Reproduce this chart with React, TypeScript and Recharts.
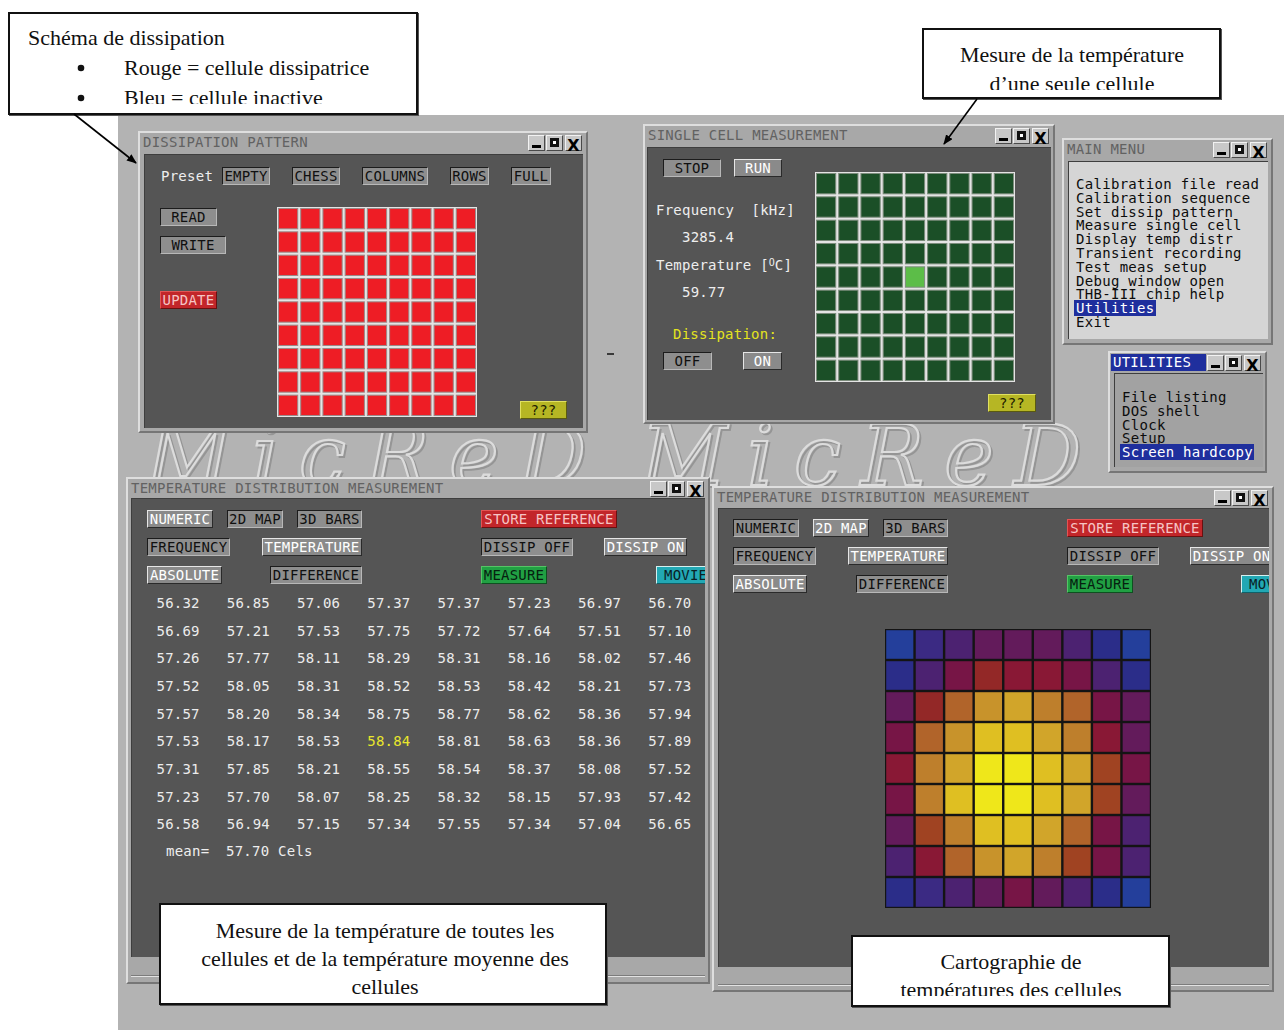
import { Scatter, ScatterChart, XAxis, YAxis } from 'recharts'

const MONO = '"DejaVu Sans Mono", monospace'
const SERIF = '"Liberation Serif", serif'

const DESK = '#b3b3b3'
const FRAME = '#a8a8a8'
const PANEL = '#555555'

// Dissipation pattern ("FULL" preset): 1 = dissipating cell
const DISSIP_PATTERN = [
  [1, 1, 1, 1, 1, 1, 1, 1, 1],
  [1, 1, 1, 1, 1, 1, 1, 1, 1],
  [1, 1, 1, 1, 1, 1, 1, 1, 1],
  [1, 1, 1, 1, 1, 1, 1, 1, 1],
  [1, 1, 1, 1, 1, 1, 1, 1, 1],
  [1, 1, 1, 1, 1, 1, 1, 1, 1],
  [1, 1, 1, 1, 1, 1, 1, 1, 1],
  [1, 1, 1, 1, 1, 1, 1, 1, 1],
  [1, 1, 1, 1, 1, 1, 1, 1, 1],
]

// Single cell measurement: 1 = cell being measured
const MEASURED_CELL = [
  [0, 0, 0, 0, 0, 0, 0, 0, 0],
  [0, 0, 0, 0, 0, 0, 0, 0, 0],
  [0, 0, 0, 0, 0, 0, 0, 0, 0],
  [0, 0, 0, 0, 0, 0, 0, 0, 0],
  [0, 0, 0, 0, 1, 0, 0, 0, 0],
  [0, 0, 0, 0, 0, 0, 0, 0, 0],
  [0, 0, 0, 0, 0, 0, 0, 0, 0],
  [0, 0, 0, 0, 0, 0, 0, 0, 0],
  [0, 0, 0, 0, 0, 0, 0, 0, 0],
]
const FREQ_KHZ = '3285.4'
const CELL_TEMP = '59.77'

// Numeric temperature distribution [°C]
const TEMP_TABLE = [
  [56.32, 56.85, 57.06, 57.37, 57.37, 57.23, 56.97, 56.7],
  [56.69, 57.21, 57.53, 57.75, 57.72, 57.64, 57.51, 57.1],
  [57.26, 57.77, 58.11, 58.29, 58.31, 58.16, 58.02, 57.46],
  [57.52, 58.05, 58.31, 58.52, 58.53, 58.42, 58.21, 57.73],
  [57.57, 58.2, 58.34, 58.75, 58.77, 58.62, 58.36, 57.94],
  [57.53, 58.17, 58.53, 58.84, 58.81, 58.63, 58.36, 57.89],
  [57.31, 57.85, 58.21, 58.55, 58.54, 58.37, 58.08, 57.52],
  [57.23, 57.7, 58.07, 58.25, 58.32, 58.15, 57.93, 57.42],
  [56.58, 56.94, 57.15, 57.34, 57.55, 57.34, 57.04, 56.65],
]
const MEAN_TEMP = '57.70'

// 2D map colour scale (cold -> hot) and the level of each cell
const MAP_PALETTE = [
  '#243f9b', '#2b2d89', '#3b2a83', '#4c2271', '#631b5b',
  '#771546', '#891835', '#932827', '#a04322', '#b1642a',
  '#be7f2c', '#c8932b', '#d1a52a', '#dfbf22', '#efe71a',
]
const MAP_LEVELS = [
  [0, 2, 3, 4, 4, 4, 3, 1, 0],
  [1, 3, 5, 7, 6, 6, 5, 3, 1],
  [4, 7, 9, 11, 12, 10, 9, 5, 4],
  [5, 9, 11, 13, 13, 12, 10, 6, 4],
  [6, 10, 12, 14, 14, 13, 12, 8, 5],
  [5, 10, 13, 14, 14, 13, 12, 8, 4],
  [4, 8, 10, 13, 13, 12, 9, 5, 3],
  [3, 6, 9, 11, 12, 10, 8, 5, 3],
  [1, 2, 3, 4, 5, 4, 3, 1, 0],
]

const MAIN_MENU = [
  'Calibration file read',
  'Calibration sequence',
  'Set dissip pattern',
  'Measure single cell',
  'Display temp distr',
  'Transient recording',
  'Test meas setup',
  'Debug window open',
  'THB-III chip help',
  'Utilities',
  'Exit',
]
const UTILITY_ITEMS = ['File listing', 'DOS shell', 'Clock', 'Setup', 'Screen hardcopy']

type GridCell = { x: number; y: number; fill: string }

function toCells(matrix: number[][], color: (v: number) => string): GridCell[] {
  return matrix.flatMap((row, r) =>
    row.map((v, c) => ({ x: c + 0.5, y: r + 0.5, fill: color(v) })),
  )
}

const NO_MARGIN = { top: 0, right: 0, bottom: 0, left: 0 }

function CellGrid({
  left, top, width, height, matrix, color, frame, gap, edge,
}: {
  left: number; top: number; width: number; height: number
  matrix: number[][]; color: (v: number) => string
  frame: string; gap: number; edge?: string
}) {
  const cols = matrix[0].length
  const rows = matrix.length
  const cw = width / cols
  const ch = height / rows
  return (
    <div style={{ position: 'absolute', left, top, width, height, background: frame }}>
      <ScatterChart width={width} height={height} margin={NO_MARGIN}>
        <XAxis type="number" dataKey="x" domain={[0, cols]} hide />
        <YAxis type="number" dataKey="y" domain={[0, rows]} reversed hide />
        <Scatter
          data={toCells(matrix, color)}
          isAnimationActive={false}
          shape={(p: any) => (
            <rect
              x={p.cx - cw / 2 + gap / 2}
              y={p.cy - ch / 2 + gap / 2}
              width={cw - gap}
              height={ch - gap}
              fill={p.payload.fill}
              stroke={edge ?? 'none'}
              strokeWidth={1}
            />
          )}
        />
      </ScatterChart>
    </div>
  )
}

function NumericTable() {
  const cols = TEMP_TABLE[0].length
  const rows = TEMP_TABLE.length
  const hottest = Math.max(...TEMP_TABLE.flat())
  const data = TEMP_TABLE.flatMap((row, r) => row.map((v, c) => ({ x: c + 0.5, y: r + 0.5, v })))
  return (
    <div style={{ position: 'absolute', left: 142, top: 589 }}>
      <ScatterChart width={562} height={249} margin={NO_MARGIN}>
        <XAxis type="number" dataKey="x" domain={[0, cols]} hide />
        <YAxis type="number" dataKey="y" domain={[0, rows]} reversed hide />
        <Scatter
          data={data}
          isAnimationActive={false}
          shape={(p: any) => (
            <text
              x={p.cx + 1}
              y={p.cy}
              textAnchor="middle"
              dominantBaseline="central"
              fontFamily={MONO}
              fontSize={14}
              letterSpacing={0.2}
              fill={p.payload.v === hottest ? '#e8e62c' : '#ececec'}
            >
              {p.payload.v.toFixed(2)}
            </text>
          )}
        />
      </ScatterChart>
    </div>
  )
}

const BTN: Record<string, { bg: string; fg: string; hi: string; lo: string }> = {
  plain: { bg: '#8e8e8e', fg: '#101010', hi: '#1c1c1c', lo: '#b8b8b8' },
  on: { bg: '#8a8a8a', fg: '#ffffff', hi: '#e6e6e6', lo: '#2a2a2a' },
  red: { bg: '#c2262a', fg: '#f6c4c4', hi: '#e25454', lo: '#6a1010' },
  green: { bg: '#21a043', fg: '#062010', hi: '#55c465', lo: '#0e5020' },
  teal: { bg: '#22a8b4', fg: '#0a2024', hi: '#d4f0f0', lo: '#106068' },
  yellow: { bg: '#b6b624', fg: '#202000', hi: '#e0e060', lo: '#5a5a10' },
}

function Btn({ x, y, w, h = 18, label, kind = 'plain', pad }: {
  x: number; y: number; w: number; h?: number; label: string; kind?: string; pad?: number
}) {
  const s = BTN[kind]
  return (
    <div
      style={{
        position: 'absolute', left: x, top: y, width: w, height: h, boxSizing: 'border-box',
        background: s.bg, color: s.fg,
        borderTop: `1px solid ${s.hi}`, borderLeft: `1px solid ${s.hi}`,
        borderRight: `1px solid ${s.lo}`, borderBottom: `1px solid ${s.lo}`,
        font: `14px ${MONO}`, letterSpacing: 0.2, lineHeight: `${h - 2}px`,
        textAlign: pad === undefined ? 'center' : 'left', paddingLeft: pad ?? 0,
        whiteSpace: 'pre', overflow: 'hidden',
      }}
    >
      {label}
    </div>
  )
}

function Txt({ x, y, children, color = '#eeeeee' }: { x: number; y: number; children: any; color?: string }) {
  return (
    <div
      style={{
        position: 'absolute', left: x, top: y - 9, height: 18, lineHeight: '18px',
        font: `14px ${MONO}`, letterSpacing: 0.25, color, whiteSpace: 'pre',
      }}
    >
      {children}
    </div>
  )
}

function Controls({ right, top }: { right: number; top: number }) {
  const box = (left: number, glyph: any) => (
    <div
      style={{
        position: 'absolute', left, top, width: 17, height: 16, boxSizing: 'border-box',
        background: '#c8c8c8', borderTop: '1px solid #f2f2f2', borderLeft: '1px solid #f2f2f2',
        borderRight: '1px solid #4a4a4a', borderBottom: '1px solid #4a4a4a',
      }}
    >
      {glyph}
    </div>
  )
  return (
    <>
      {box(right - 55, <div style={{ position: 'absolute', left: 3, top: 9, width: 9, height: 3, background: '#000' }} />)}
      {box(
        right - 37,
        <div style={{ position: 'absolute', left: 3, top: 2, width: 9, height: 9, background: '#111' }}>
          <div style={{ position: 'absolute', left: 3, top: 3, width: 3, height: 3, background: '#fff' }} />
        </div>,
      )}
      {box(
        right - 18,
        <div style={{ position: 'absolute', left: 0, top: 0, width: 15, lineHeight: '14px', textAlign: 'center', font: `bold 16px "DejaVu Sans", sans-serif` }}>
          X
        </div>,
      )}
    </>
  )
}

function Win({
  x, y, w, h, title, panel, panelBg = PANEL, highlight, divider, children,
}: {
  x: number; y: number; w: number; h: number; title: string
  panel: [number, number, number, number]; panelBg?: string
  highlight?: number; divider?: number; children?: any
}) {
  const [px, py, pw, ph] = panel
  return (
    <>
      <div
        style={{
          position: 'absolute', left: x, top: y, width: w, height: h, boxSizing: 'border-box',
          background: FRAME, borderTop: '2px solid #dedede', borderLeft: '2px solid #dedede',
          borderRight: '2px solid #767676', borderBottom: '2px solid #767676',
        }}
      />
      {highlight ? (
        <div style={{ position: 'absolute', left: x + 3, top: y + 3, width: highlight, height: 17, background: '#1f2f9d' }} />
      ) : null}
      <div
        style={{
          position: 'absolute', left: x + 5, top: y + 3, height: 18, lineHeight: '18px',
          font: `14px ${MONO}`, letterSpacing: 0.25, whiteSpace: 'pre',
          color: highlight ? '#ffffff' : '#626262',
        }}
      >
        {title}
      </div>
      <Controls right={x + w - 5} top={y + 4} />
      <div
        style={{
          position: 'absolute', left: px, top: py, width: pw, height: ph, background: panelBg,
          overflow: 'hidden', boxShadow: 'inset 1px 1px 0 #3e3e3e',
        }}
      >
        <div style={{ position: 'absolute', left: -px, top: -py }}>{children}</div>
      </div>
      {divider ? (
        <>
          <div style={{ position: 'absolute', left: px, top: divider, width: pw, height: 1, background: '#7c7c7c' }} />
          <div style={{ position: 'absolute', left: px, top: divider + 1, width: pw, height: 1, background: '#e2e2e2' }} />
        </>
      ) : null}
    </>
  )
}

function Menu({ x, y, items, pick }: { x: number; y: number; items: string[]; pick: string }) {
  return (
    <>
      {items.map((t, i) => (
        <div
          key={t}
          style={{
            position: 'absolute', left: x - 2, top: y + i * 13.8 - 7, height: 14, lineHeight: '14px',
            font: `14px ${MONO}`, letterSpacing: 0.3, whiteSpace: 'pre',
          }}
        >
          <span
            style={{
              display: 'inline-block', padding: '0 1px 0 2px',
              background: t === pick ? '#1f2f9d' : 'transparent',
              color: t === pick ? '#ffffff' : '#0c0c0c',
            }}
          >
            {t}
          </span>
        </div>
      ))}
    </>
  )
}

function TempWindowButtons({ dx, dy, map }: { dx: number; dy: number; map: boolean }) {
  const r1 = dy
  const r2 = dy + 28
  const r3 = dy + 56
  return (
    <>
      <Btn x={dx} y={r1} w={66} label="NUMERIC" kind={map ? 'plain' : 'on'} />
      <Btn x={dx + 80} y={r1} w={56} label="2D MAP" kind={map ? 'on' : 'plain'} />
      <Btn x={dx + 150} y={r1} w={65} label="3D BARS" />
      <Btn x={dx + 334} y={r1} w={136} label="STORE REFERENCE" kind="red" />
      <Btn x={dx} y={r2} w={83} label="FREQUENCY" />
      <Btn x={dx + 115} y={r2} w={100} label="TEMPERATURE" kind="on" />
      <Btn x={dx + 334} y={r2} w={92} label="DISSIP OFF" />
      <Btn x={dx + 457} y={r2} w={83} label="DISSIP ON" kind="on" />
      <Btn x={dx} y={r3} w={map ? 74 : 75} label="ABSOLUTE" kind="on" />
      <Btn x={dx + 123} y={r3} w={92} label="DIFFERENCE" />
      <Btn x={dx + 334} y={r3} w={66} label="MEASURE" kind="green" />
      <Btn x={dx + (map ? 508 : 509)} y={r3} w={54} label="MOVIE" kind="teal" pad={7} />
    </>
  )
}

function Note({
  x, y, w, h, clip, children,
}: { x: number; y: number; w: number; h: number; clip?: number; children: any }) {
  return (
    <div
      style={{
        position: 'absolute', left: x, top: y, width: w, height: h, boxSizing: 'border-box',
        background: '#ffffff', border: '2px solid #111', boxShadow: '1px 1px 0 #555',
      }}
    >
      <svg
        width={w}
        height={clip ?? h}
        style={{ position: 'absolute', left: -2, top: -2, overflow: 'hidden' }}
        fontFamily={SERIF}
        fontSize={22}
        fill="#111"
      >
        {children}
      </svg>
    </div>
  )
}

function Watermark({ x, y }: { x: number; y: number }) {
  const common = {
    fontFamily: '"DejaVu Serif", serif',
    fontStyle: 'italic' as const,
    fontSize: 84,
    textLength: 440,
    fill: 'none',
  }
  return (
    <>
      <text x={x + 2} y={y + 2} {...common} stroke="#959595" strokeWidth={2}>MicReD</text>
      <text x={x} y={y} {...common} stroke="#dcdcdc" strokeWidth={2.2}>MicReD</text>
    </>
  )
}

function Arrows() {
  return (
    <svg width={1284} height={1030} style={{ position: 'absolute', left: 0, top: 0 }}>
      <defs>
        <marker id="head" markerWidth="10" markerHeight="8" refX="9" refY="4" orient="auto" markerUnits="userSpaceOnUse">
          <path d="M0,0 L10,4 L0,8 z" fill="#000" />
        </marker>
      </defs>
      <line x1={74} y1={114} x2={136} y2={163} stroke="#000" strokeWidth={1.6} markerEnd="url(#head)" />
      <line x1={977} y1={99} x2={944} y2={144} stroke="#000" strokeWidth={1.6} markerEnd="url(#head)" />
    </svg>
  )
}

export default function App() {
  return (
    <div
      style={{
        position: 'absolute', left: 0, top: 0, width: 1284, height: 1030,
        background: '#ffffff', overflow: 'hidden',
      }}
    >
      {/* desktop */}
      <div style={{ position: 'absolute', left: 118, top: 115, width: 1166, height: 915, background: DESK }}>
        <svg width={1166} height={915}>
          <Watermark x={28} y={370} />
          <Watermark x={523} y={370} />
        </svg>
      </div>

      <Win x={138} y={131} w={450} h={302} title="DISSIPATION PATTERN" panel={[144, 154, 439, 274]}>
        <Txt x={161} y={177}>Preset</Txt>
        <Btn x={222} y={167} w={48} label="EMPTY" />
        <Btn x={292} y={167} w={48} label="CHESS" />
        <Btn x={362} y={167} w={66} label="COLUMNS" />
        <Btn x={450} y={167} w={39} label="ROWS" />
        <Btn x={511} y={167} w={40} label="FULL" />
        <Btn x={160} y={208} w={57} label="READ" />
        <Btn x={160} y={236} w={66} label="WRITE" />
        <Btn x={160} y={291} w={57} label="UPDATE" kind="red" />
        <CellGrid
          left={277} top={207} width={200} height={210}
          matrix={DISSIP_PATTERN}
          color={(v) => (v ? '#ee1d25' : '#2a3fa0')}
          frame="#e4e4e4" gap={3} edge="#9a8a8a"
        />
        <Btn x={520} y={401} w={47} label="???" kind="yellow" />
      </Win>

      <div style={{ position: 'absolute', left: 607, top: 353, width: 7, height: 2, background: '#3a3a3a' }} />

      <Win x={643} y={124} w={412} h={300} title="SINGLE CELL MEASUREMENT" panel={[647, 147, 404, 273]}>
        <Btn x={663} y={159} w={58} label="STOP" />
        <Btn x={734} y={159} w={48} label="RUN" kind="on" />
        <Txt x={656} y={211}>{'Frequency  [kHz]'}</Txt>
        <Txt x={682} y={238}>{FREQ_KHZ}</Txt>
        <Txt x={656} y={266}>
          {'Temperature ['}
          <span style={{ fontSize: 10, position: 'relative', top: -4, letterSpacing: 0 }}>O</span>
          {'C]'}
        </Txt>
        <Txt x={682} y={293}>{CELL_TEMP}</Txt>
        <Txt x={673} y={335} color="#e4e41e">Dissipation:</Txt>
        <Btn x={663} y={352} w={49} label="OFF" />
        <Btn x={743} y={352} w={39} label="ON" kind="on" />
        <CellGrid
          left={815} top={172} width={200} height={210}
          matrix={MEASURED_CELL}
          color={(v) => (v ? '#5cbd48' : '#1b4f27')}
          frame="#e4e4e4" gap={3} edge="#7c8c7c"
        />
        <Btn x={988} y={394} w={48} label="???" kind="yellow" />
      </Win>

      <Win x={1062} y={138} w={211} h={207} title="MAIN MENU" panel={[1068, 161, 200, 178]} panelBg="#d5d5d5">
        <Menu x={1076} y={183} items={MAIN_MENU} pick="Utilities" />
      </Win>

      <Win x={1108} y={351} w={159} h={122} title="UTILITIES" panel={[1114, 373, 149, 94]} panelBg="#a2a2a2" highlight={95}>
        <Menu x={1122} y={396} items={UTILITY_ITEMS} pick="Screen hardcopy" />
      </Win>

      <Win x={126} y={477} w={584} h={507} title="TEMPERATURE DISTRIBUTION MEASUREMENT" panel={[131, 498, 574, 459]} divider={975}>
        <TempWindowButtons dx={147} dy={510} map={false} />
        <NumericTable />
        <Txt x={166} y={852}>mean=</Txt>
        <Txt x={226} y={852}>{`${MEAN_TEMP} Cels`}</Txt>
      </Win>

      <Win x={712} y={486} w={562} h={506} title="TEMPERATURE DISTRIBUTION MEASUREMENT" panel={[718, 508, 551, 459]} divider={984}>
        <TempWindowButtons dx={733} dy={519} map />
        <CellGrid
          left={885} top={629} width={266} height={279}
          matrix={MAP_LEVELS}
          color={(v) => MAP_PALETTE[v]}
          frame="#141414" gap={2.4}
        />
      </Win>

      {/* annotations */}
      <Note x={8} y={12} w={410} h={103} clip={92}>
        <text x={20} y={33}>Schéma de dissipation</text>
        <circle cx={73} cy={56} r={3.3} />
        <text x={116} y={63}>Rouge = cellule dissipatrice</text>
        <circle cx={73} cy={86} r={3.3} />
        <text x={116} y={93}>Bleu = cellule inactive</text>
      </Note>

      <Note x={922} y={28} w={299} h={71} clip={62}>
        <text x={150} y={34} textAnchor="middle">Mesure de la température</text>
        <text x={150} y={63} textAnchor="middle">d’une seule cellule</text>
      </Note>

      <Note x={159} y={903} w={448} h={102}>
        <text x={226} y={35} textAnchor="middle">Mesure de la température de toutes les</text>
        <text x={226} y={63} textAnchor="middle">cellules et de la température moyenne des</text>
        <text x={226} y={91} textAnchor="middle">cellules</text>
      </Note>

      <Note x={851} y={935} w={319} h={72} clip={61}>
        <text x={160} y={34} textAnchor="middle">Cartographie de</text>
        <text x={160} y={62} textAnchor="middle">températures des cellules</text>
      </Note>

      <Arrows />
    </div>
  )
}
